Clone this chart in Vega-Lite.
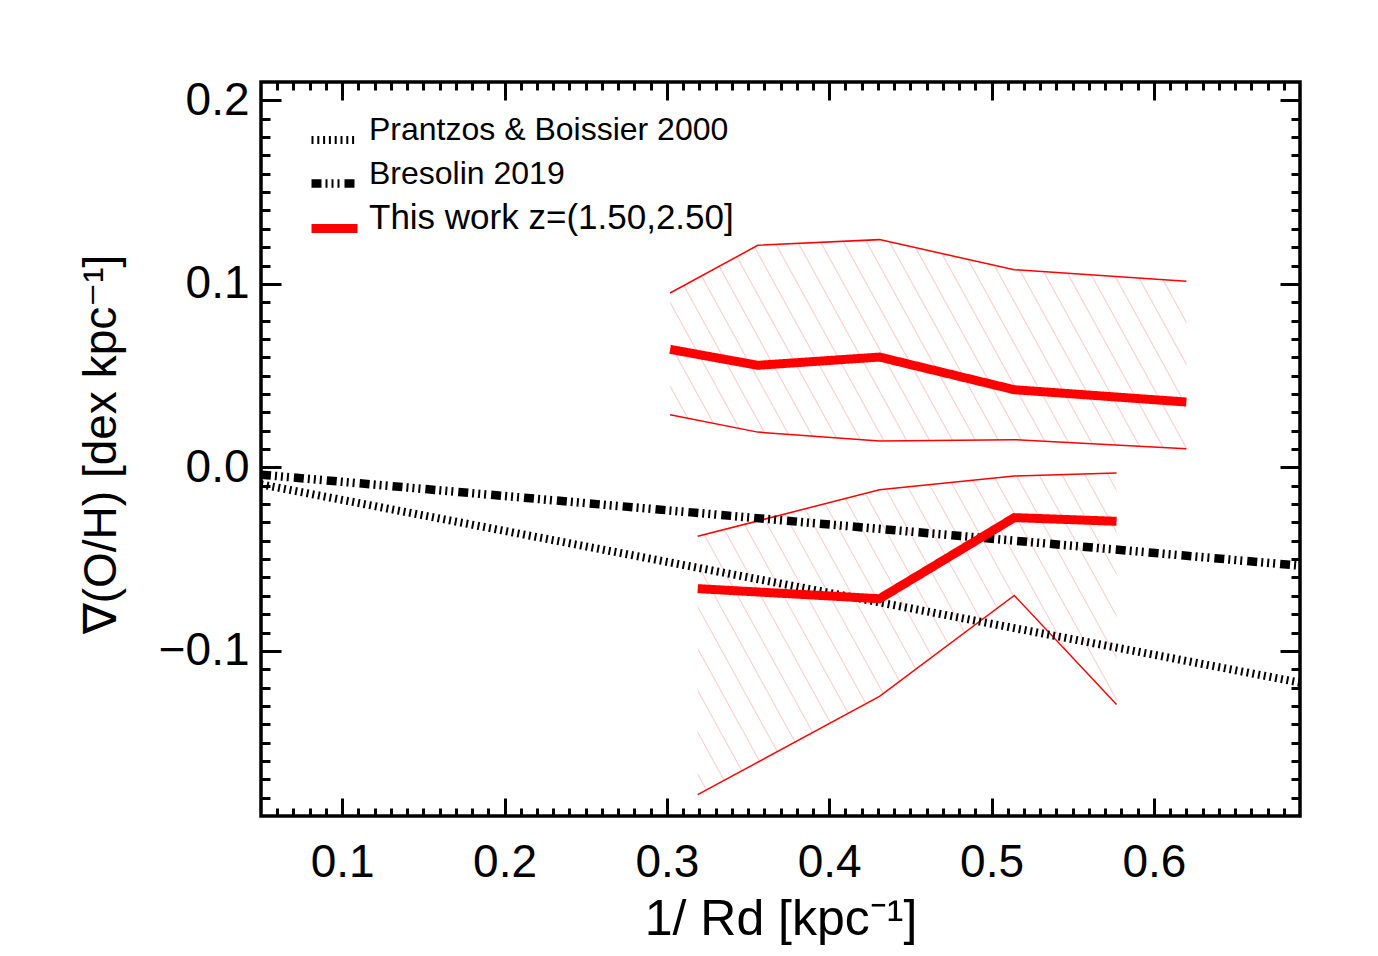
{
  "$schema": "https://vega.github.io/schema/vega-lite/v6.json",
  "width": 1039,
  "height": 734,
  "autosize": "none",
  "padding": {"left": 261, "top": 82, "right": 78, "bottom": 140},
  "background": "white",
  "config": {
    "view": {"stroke": "black", "strokeWidth": 3.5},
    "font": "Liberation Sans",
    "axis": {
      "domain": false, "grid": false, "ticks": true, "tickColor": "black", "tickWidth": 3,
      "labelColor": "black", "labelFont": "Liberation Sans", "labelFontSize": 46,
      "titleFont": "Liberation Sans", "titleFontSize": 50, "titleFontWeight": "normal", "titleColor": "black",
      "labelOverlap": false, "labelFlush": false, "labelBound": false
    }
  },
  "datasets": {
    "bands": [
      {"grp": "A", "x": 0.302, "lo": 0.0287, "hi": 0.0950},
      {"grp": "A", "x": 0.356, "lo": 0.0192, "hi": 0.1210},
      {"grp": "A", "x": 0.431, "lo": 0.0143, "hi": 0.1241},
      {"grp": "A", "x": 0.514, "lo": 0.0151, "hi": 0.1077},
      {"grp": "A", "x": 0.620, "lo": 0.0102, "hi": 0.1014},
      {"grp": "B", "x": 0.319, "lo": -0.1784, "hi": -0.0376},
      {"grp": "B", "x": 0.431, "lo": -0.1248, "hi": -0.0122},
      {"grp": "B", "x": 0.514, "lo": -0.0698, "hi": -0.0047},
      {"grp": "B", "x": 0.577, "lo": -0.1292, "hi": -0.0031}
    ],
    "lines": [
      {"series": "Prantzos & Boissier 2000", "grp": "P", "x": 0.05, "y": -0.0093},
      {"series": "Prantzos & Boissier 2000", "grp": "P", "x": 0.69, "y": -0.1173},
      {"series": "Bresolin 2019", "grp": "B19", "x": 0.05, "y": -0.0040},
      {"series": "Bresolin 2019", "grp": "B19", "x": 0.69, "y": -0.0536},
      {"series": "This work z=(1.50,2.50]", "grp": "A", "x": 0.302, "y": 0.0643},
      {"series": "This work z=(1.50,2.50]", "grp": "A", "x": 0.356, "y": 0.0556},
      {"series": "This work z=(1.50,2.50]", "grp": "A", "x": 0.431, "y": 0.0601},
      {"series": "This work z=(1.50,2.50]", "grp": "A", "x": 0.514, "y": 0.0423},
      {"series": "This work z=(1.50,2.50]", "grp": "A", "x": 0.620, "y": 0.0356},
      {"series": "This work z=(1.50,2.50]", "grp": "B", "x": 0.319, "y": -0.0661},
      {"series": "This work z=(1.50,2.50]", "grp": "B", "x": 0.431, "y": -0.0716},
      {"series": "This work z=(1.50,2.50]", "grp": "B", "x": 0.514, "y": -0.0274},
      {"series": "This work z=(1.50,2.50]", "grp": "B", "x": 0.577, "y": -0.0294}
    ]
  },
  "resolve": {"axis": {"x": "independent", "y": "independent"}},
  "layer": [
    {
      "data": {"name": "bands"},
      "transform": [{"filter": "datum.grp == 'A'"}],
      "mark": {"type": "area", "stroke": null, "fill": {
        "gradient": "linear", "x1": 0, "y1": 1, "x2": 1.1647, "y2": 0.7412,
        "stops": [
          {"offset": 0.0, "color": "#ffffff"},
          {"offset": 0.016, "color": "#ffffff"}, {"offset": 0.018, "color": "#ffcccc"}, {"offset": 0.020, "color": "#ffffff"},
          {"offset": 0.0524, "color": "#ffffff"}, {"offset": 0.0544, "color": "#ffcccc"}, {"offset": 0.0564, "color": "#ffffff"},
          {"offset": 0.0888, "color": "#ffffff"}, {"offset": 0.0908, "color": "#ffcccc"}, {"offset": 0.0928, "color": "#ffffff"},
          {"offset": 0.1252, "color": "#ffffff"}, {"offset": 0.1272, "color": "#ffcccc"}, {"offset": 0.1292, "color": "#ffffff"},
          {"offset": 0.1616, "color": "#ffffff"}, {"offset": 0.1636, "color": "#ffcccc"}, {"offset": 0.1656, "color": "#ffffff"},
          {"offset": 0.198, "color": "#ffffff"}, {"offset": 0.2, "color": "#ffcccc"}, {"offset": 0.202, "color": "#ffffff"},
          {"offset": 0.2344, "color": "#ffffff"}, {"offset": 0.2364, "color": "#ffcccc"}, {"offset": 0.2384, "color": "#ffffff"},
          {"offset": 0.2708, "color": "#ffffff"}, {"offset": 0.2728, "color": "#ffcccc"}, {"offset": 0.2748, "color": "#ffffff"},
          {"offset": 0.3072, "color": "#ffffff"}, {"offset": 0.3092, "color": "#ffcccc"}, {"offset": 0.3112, "color": "#ffffff"},
          {"offset": 0.3436, "color": "#ffffff"}, {"offset": 0.3456, "color": "#ffcccc"}, {"offset": 0.3476, "color": "#ffffff"},
          {"offset": 0.38, "color": "#ffffff"}, {"offset": 0.382, "color": "#ffcccc"}, {"offset": 0.384, "color": "#ffffff"},
          {"offset": 0.4164, "color": "#ffffff"}, {"offset": 0.4184, "color": "#ffcccc"}, {"offset": 0.4204, "color": "#ffffff"},
          {"offset": 0.4528, "color": "#ffffff"}, {"offset": 0.4548, "color": "#ffcccc"}, {"offset": 0.4568, "color": "#ffffff"},
          {"offset": 0.4892, "color": "#ffffff"}, {"offset": 0.4912, "color": "#ffcccc"}, {"offset": 0.4932, "color": "#ffffff"},
          {"offset": 0.5256, "color": "#ffffff"}, {"offset": 0.5276, "color": "#ffcccc"}, {"offset": 0.5296, "color": "#ffffff"},
          {"offset": 0.562, "color": "#ffffff"}, {"offset": 0.564, "color": "#ffcccc"}, {"offset": 0.566, "color": "#ffffff"},
          {"offset": 0.5984, "color": "#ffffff"}, {"offset": 0.6004, "color": "#ffcccc"}, {"offset": 0.6024, "color": "#ffffff"},
          {"offset": 0.6348, "color": "#ffffff"}, {"offset": 0.6368, "color": "#ffcccc"}, {"offset": 0.6388, "color": "#ffffff"},
          {"offset": 0.6712, "color": "#ffffff"}, {"offset": 0.6732, "color": "#ffcccc"}, {"offset": 0.6752, "color": "#ffffff"},
          {"offset": 0.7076, "color": "#ffffff"}, {"offset": 0.7096, "color": "#ffcccc"}, {"offset": 0.7116, "color": "#ffffff"},
          {"offset": 0.744, "color": "#ffffff"}, {"offset": 0.746, "color": "#ffcccc"}, {"offset": 0.748, "color": "#ffffff"},
          {"offset": 0.7804, "color": "#ffffff"}, {"offset": 0.7824, "color": "#ffcccc"}, {"offset": 0.7844, "color": "#ffffff"},
          {"offset": 0.8168, "color": "#ffffff"}, {"offset": 0.8188, "color": "#ffcccc"}, {"offset": 0.8208, "color": "#ffffff"},
          {"offset": 0.8532, "color": "#ffffff"}, {"offset": 0.8552, "color": "#ffcccc"}, {"offset": 0.8572, "color": "#ffffff"},
          {"offset": 0.8896, "color": "#ffffff"}, {"offset": 0.8916, "color": "#ffcccc"}, {"offset": 0.8936, "color": "#ffffff"},
          {"offset": 0.926, "color": "#ffffff"}, {"offset": 0.928, "color": "#ffcccc"}, {"offset": 0.930, "color": "#ffffff"},
          {"offset": 0.9624, "color": "#ffffff"}, {"offset": 0.9644, "color": "#ffcccc"}, {"offset": 0.9664, "color": "#ffffff"},
          {"offset": 1.0, "color": "#ffffff"}
        ]}},
      "encoding": {
        "x": {
          "field": "x", "type": "quantitative",
          "scale": {"domain": [0.05, 0.69], "nice": false, "zero": false},
          "axis": {
            "orient": "bottom",
            "values": [0.06,0.07,0.08,0.09,0.1,0.11,0.12,0.13,0.14,0.15,0.16,0.17,0.18,0.19,0.2,0.21,0.22,0.23,0.24,0.25,0.26,0.27,0.28,0.29,0.3,0.31,0.32,0.33,0.34,0.35,0.36,0.37,0.38,0.39,0.4,0.41,0.42,0.43,0.44,0.45,0.46,0.47,0.48,0.49,0.5,0.51,0.52,0.53,0.54,0.55,0.56,0.57,0.58,0.59,0.6,0.61,0.62,0.63,0.64,0.65,0.66,0.67,0.68],
            "labelExpr": "abs(round(datum.value*100)) % 10 == 0 ? format(datum.value, '.1f') : ''",
            "tickSize": {"condition": {"test": "abs(round(datum.value*100)) % 10 == 0", "value": -18}, "value": -8},
            "labelPadding": 42,
            "title": "1/ Rd [kpc⁻¹]",
            "titleBaseline": "alphabetic",
            "titleY": 118
          }
        },
        "y": {
          "field": "lo", "type": "quantitative",
          "scale": {"domain": [-0.19, 0.21], "nice": false, "zero": false},
          "axis": {
            "orient": "left",
            "values": [-0.18,-0.17,-0.16,-0.15,-0.14,-0.13,-0.12,-0.11,-0.1,-0.09,-0.08,-0.07,-0.06,-0.05,-0.04,-0.03,-0.02,-0.01,0,0.01,0.02,0.03,0.04,0.05,0.06,0.07,0.08,0.09,0.1,0.11,0.12,0.13,0.14,0.15,0.16,0.17,0.18,0.19,0.2],
            "labelExpr": "abs(round(datum.value*100)) % 10 == 0 ? format(datum.value, '.1f') : ''",
            "tickSize": {"condition": {"test": "abs(round(datum.value*100)) % 10 == 0", "value": -20}, "value": -9},
            "labelPadding": 32,
            "title": "∇(O/H) [dex kpc⁻¹]",
            "titleFontSize": 46,
            "titleBaseline": "alphabetic",
            "titleAngle": -90,
            "titleAlign": "center",
            "titleX": -146,
            "titleY": 362
          }
        },
        "y2": {"field": "hi"}
      }
    },
    {
      "data": {"name": "bands"},
      "transform": [{"filter": "datum.grp == 'B'"}],
      "mark": {"type": "area", "stroke": null, "fill": {
        "gradient": "linear", "x1": 0, "y1": 1, "x2": 1.207, "y2": 0.491,
        "stops": [
          {"offset": 0.0, "color": "#ffffff"},
          {"offset": 0.017, "color": "#ffffff"}, {"offset": 0.019, "color": "#ffcccc"}, {"offset": 0.021, "color": "#ffffff"},
          {"offset": 0.0556, "color": "#ffffff"}, {"offset": 0.0576, "color": "#ffcccc"}, {"offset": 0.0596, "color": "#ffffff"},
          {"offset": 0.0942, "color": "#ffffff"}, {"offset": 0.0962, "color": "#ffcccc"}, {"offset": 0.0982, "color": "#ffffff"},
          {"offset": 0.1328, "color": "#ffffff"}, {"offset": 0.1348, "color": "#ffcccc"}, {"offset": 0.1368, "color": "#ffffff"},
          {"offset": 0.1714, "color": "#ffffff"}, {"offset": 0.1734, "color": "#ffcccc"}, {"offset": 0.1754, "color": "#ffffff"},
          {"offset": 0.21, "color": "#ffffff"}, {"offset": 0.212, "color": "#ffcccc"}, {"offset": 0.214, "color": "#ffffff"},
          {"offset": 0.2486, "color": "#ffffff"}, {"offset": 0.2506, "color": "#ffcccc"}, {"offset": 0.2526, "color": "#ffffff"},
          {"offset": 0.2872, "color": "#ffffff"}, {"offset": 0.2892, "color": "#ffcccc"}, {"offset": 0.2912, "color": "#ffffff"},
          {"offset": 0.3258, "color": "#ffffff"}, {"offset": 0.3278, "color": "#ffcccc"}, {"offset": 0.3298, "color": "#ffffff"},
          {"offset": 0.3644, "color": "#ffffff"}, {"offset": 0.3664, "color": "#ffcccc"}, {"offset": 0.3684, "color": "#ffffff"},
          {"offset": 0.403, "color": "#ffffff"}, {"offset": 0.405, "color": "#ffcccc"}, {"offset": 0.407, "color": "#ffffff"},
          {"offset": 0.4416, "color": "#ffffff"}, {"offset": 0.4436, "color": "#ffcccc"}, {"offset": 0.4456, "color": "#ffffff"},
          {"offset": 0.4802, "color": "#ffffff"}, {"offset": 0.4822, "color": "#ffcccc"}, {"offset": 0.4842, "color": "#ffffff"},
          {"offset": 0.5188, "color": "#ffffff"}, {"offset": 0.5208, "color": "#ffcccc"}, {"offset": 0.5228, "color": "#ffffff"},
          {"offset": 0.5574, "color": "#ffffff"}, {"offset": 0.5594, "color": "#ffcccc"}, {"offset": 0.5614, "color": "#ffffff"},
          {"offset": 0.596, "color": "#ffffff"}, {"offset": 0.598, "color": "#ffcccc"}, {"offset": 0.600, "color": "#ffffff"},
          {"offset": 0.6346, "color": "#ffffff"}, {"offset": 0.6366, "color": "#ffcccc"}, {"offset": 0.6386, "color": "#ffffff"},
          {"offset": 0.6732, "color": "#ffffff"}, {"offset": 0.6752, "color": "#ffcccc"}, {"offset": 0.6772, "color": "#ffffff"},
          {"offset": 0.7118, "color": "#ffffff"}, {"offset": 0.7138, "color": "#ffcccc"}, {"offset": 0.7158, "color": "#ffffff"},
          {"offset": 0.7504, "color": "#ffffff"}, {"offset": 0.7524, "color": "#ffcccc"}, {"offset": 0.7544, "color": "#ffffff"},
          {"offset": 0.789, "color": "#ffffff"}, {"offset": 0.791, "color": "#ffcccc"}, {"offset": 0.793, "color": "#ffffff"},
          {"offset": 0.8276, "color": "#ffffff"}, {"offset": 0.8296, "color": "#ffcccc"}, {"offset": 0.8316, "color": "#ffffff"},
          {"offset": 0.8662, "color": "#ffffff"}, {"offset": 0.8682, "color": "#ffcccc"}, {"offset": 0.8702, "color": "#ffffff"},
          {"offset": 0.9048, "color": "#ffffff"}, {"offset": 0.9068, "color": "#ffcccc"}, {"offset": 0.9088, "color": "#ffffff"},
          {"offset": 0.9434, "color": "#ffffff"}, {"offset": 0.9454, "color": "#ffcccc"}, {"offset": 0.9474, "color": "#ffffff"},
          {"offset": 0.982, "color": "#ffffff"}, {"offset": 0.984, "color": "#ffcccc"}, {"offset": 0.986, "color": "#ffffff"},
          {"offset": 1.0, "color": "#ffffff"}
        ]}},
      "encoding": {
        "x": {"field": "x", "type": "quantitative", "axis": null},
        "y": {"field": "lo", "type": "quantitative", "axis": null},
        "y2": {"field": "hi"}
      }
    },
    {
      "data": {"name": "bands"},
      "mark": {"type": "line", "color": "#ff0000", "strokeWidth": 1.5},
      "encoding": {
        "x": {
          "field": "x", "type": "quantitative",
          "axis": {
            "orient": "top", "labels": false, "title": null,
            "values": [0.06,0.07,0.08,0.09,0.1,0.11,0.12,0.13,0.14,0.15,0.16,0.17,0.18,0.19,0.2,0.21,0.22,0.23,0.24,0.25,0.26,0.27,0.28,0.29,0.3,0.31,0.32,0.33,0.34,0.35,0.36,0.37,0.38,0.39,0.4,0.41,0.42,0.43,0.44,0.45,0.46,0.47,0.48,0.49,0.5,0.51,0.52,0.53,0.54,0.55,0.56,0.57,0.58,0.59,0.6,0.61,0.62,0.63,0.64,0.65,0.66,0.67,0.68],
            "tickSize": {"condition": {"test": "abs(round(datum.value*100)) % 10 == 0", "value": -18}, "value": -8}
          }
        },
        "y": {
          "field": "hi", "type": "quantitative",
          "axis": {
            "orient": "right", "labels": false, "title": null,
            "values": [-0.18,-0.17,-0.16,-0.15,-0.14,-0.13,-0.12,-0.11,-0.1,-0.09,-0.08,-0.07,-0.06,-0.05,-0.04,-0.03,-0.02,-0.01,0,0.01,0.02,0.03,0.04,0.05,0.06,0.07,0.08,0.09,0.1,0.11,0.12,0.13,0.14,0.15,0.16,0.17,0.18,0.19,0.2],
            "tickSize": {"condition": {"test": "abs(round(datum.value*100)) % 10 == 0", "value": -20}, "value": -9}
          }
        },
        "detail": {"field": "grp"}
      }
    },
    {
      "data": {"name": "bands"},
      "mark": {"type": "line", "color": "#ff0000", "strokeWidth": 1.5},
      "encoding": {
        "x": {"field": "x", "type": "quantitative", "axis": null},
        "y": {"field": "lo", "type": "quantitative", "axis": null},
        "detail": {"field": "grp"}
      }
    },
    {
      "data": {"name": "lines"},
      "mark": {"type": "line", "strokeCap": "butt"},
      "encoding": {
        "x": {"field": "x", "type": "quantitative", "axis": null},
        "y": {"field": "y", "type": "quantitative", "axis": null},
        "detail": {"field": "grp"},
        "color": {
          "field": "series", "type": "nominal",
          "scale": {"domain": ["Prantzos & Boissier 2000", "Bresolin 2019", "This work z=(1.50,2.50]"], "range": ["#000000", "#000000", "#ff0000"]},
          "legend": {
            "orient": "none", "legendX": 46, "legendY": 31, "title": null,
            "symbolType": "stroke", "symbolSize": 2116, "symbolStrokeWidth": 4,
            "labelFont": "Liberation Sans", "labelFontSize": 32, "labelColor": "black",
            "labelBaseline": "alphabetic", "labelOffset": 7, "labelLimit": 0,
            "rowPadding": -9, "padding": 0,
            "encoding": {
              "labels": {"fontSize": {"condition": {"test": "datum.value == 'This work z=(1.50,2.50]'", "value": 35}, "value": 32}},
              "symbols": {"strokeWidth": {"condition": {"test": "datum.value == 'This work z=(1.50,2.50]'", "value": 5}, "value": 4}}
            }
          }
        },
        "strokeDash": {
          "field": "series", "type": "nominal",
          "scale": {"domain": ["Prantzos & Boissier 2000", "Bresolin 2019", "This work z=(1.50,2.50]"], "range": [[2, 3.8], [10, 4, 2, 4, 2, 4, 2, 5], [1, 0]]}
        },
        "strokeWidth": {
          "field": "series", "type": "nominal",
          "scale": {"domain": ["Prantzos & Boissier 2000", "Bresolin 2019", "This work z=(1.50,2.50]"], "range": [8, 9, 5]},
          "legend": null
        }
      }
    }
  ]
}
